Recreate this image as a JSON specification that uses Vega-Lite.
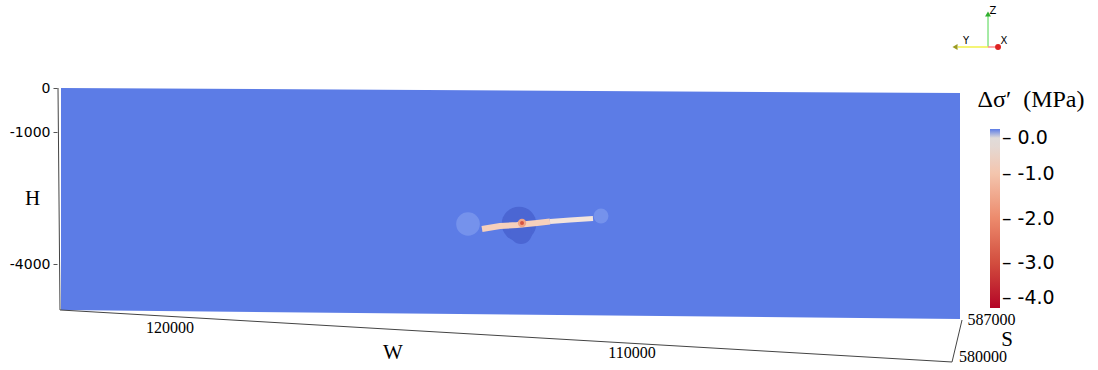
{
  "$schema": "https://vega.github.io/schema/vega-lite/v6.json",
  "autosize": {"type": "none"},
  "padding": {"left": 57, "top": 0, "right": 0, "bottom": 0},
  "width": 1041,
  "height": 370,
  "background": "white",
  "config": {"view": {"stroke": null}},
  "datasets": {
    "block": [
      {"W": 122913, "H": 0, "H2": -5045, "stress": 0},
      {"W": 103370, "H": -114, "H2": -5250, "stress": 0}
    ],
    "blobs": [
      {"name": "left", "W": 114065, "H": -3091},
      {"name": "right", "W": 111174, "H": -2909},
      {"name": "core", "W": 112957, "H": -3090},
      {"name": "coreLow", "W": 112913, "H": -3295}
    ],
    "streak": [
      {"seg": "a", "W": 113761, "H": -3205},
      {"seg": "a", "W": 113370, "H": -3136},
      {"seg": "a", "W": 113000, "H": -3114},
      {"seg": "a", "W": 112565, "H": -3068},
      {"seg": "a", "W": 112283, "H": -3034},
      {"seg": "b", "W": 112283, "H": -3034},
      {"seg": "b", "W": 111848, "H": -3000},
      {"seg": "b", "W": 111348, "H": -2966}
    ],
    "spot": [
      {"name": "glow", "W": 112891, "H": -3068, "stress": -1.6},
      {"name": "core", "W": 112891, "H": -3068, "stress": -2.9}
    ],
    "edges": [
      {"W": 122978, "H": 0, "W2": 122935, "H2": -5045},
      {"W": 122935, "H": -5045, "W2": 103543, "H2": -6227},
      {"W": 103543, "H": -6227, "W2": 103326, "H2": -5273}
    ],
    "labels": [
      {"kind": "num", "W": 120543, "H": -5455, "label": "120000"},
      {"kind": "num", "W": 110500, "H": -6023, "label": "110000"},
      {"kind": "num", "W": 102685, "H": -5273, "label": "587000"},
      {"kind": "num", "W": 102870, "H": -6114, "label": "580000"},
      {"kind": "title", "W": 115696, "H": -6023, "label": "W"},
      {"kind": "title", "W": 102348, "H": -5727, "label": "S"},
      {"kind": "legtitle", "W": 101826, "H": -273, "label": "Δσ′\u00a0\u00a0(MPa)"}
    ],
    "triad": [
      {"part": "Z", "W": 102761, "H": 932, "W2": 102761, "H2": 1659},
      {"part": "Y", "W": 102761, "H": 932, "W2": 103413, "H2": 932},
      {"part": "X", "W": 102761, "H": 932, "W2": 102500, "H2": 932}
    ],
    "triadTips": [
      {"part": "Z", "W": 102761, "H": 1682},
      {"part": "Y", "W": 103478, "H": 932},
      {"part": "X", "W": 102543, "H": 932}
    ],
    "triadLabels": [
      {"part": "Z", "W": 102652, "H": 1750},
      {"part": "Y", "W": 103239, "H": 1068},
      {"part": "X", "W": 102413, "H": 1068}
    ]
  },
  "encoding": {
    "x": {"field": "W", "type": "quantitative", "scale": {"domain": [100370, 123000], "reverse": true, "nice": false, "zero": false}, "axis": null},
    "y": {"field": "H", "type": "quantitative", "scale": {"domain": [-6409, 2000], "nice": false, "zero": false},
      "axis": {"values": [0, -1000, -4000], "domain": false, "grid": false, "tickSize": 4, "tickColor": "#555555",
        "labelExpr": "'' + datum.value", "labelFont": "DejaVu Sans", "labelFontSize": 14, "labelColor": "#000000", "labelPadding": 3,
        "title": "H", "titleAngle": 0, "titleFont": "Liberation Serif", "titleFontSize": 21, "titleFontWeight": "normal", "titleColor": "#000000",
        "titleX": -25, "titleY": 198, "titleAlign": "center", "titleBaseline": "middle"}}
  },
  "layer": [
    {
      "data": {"name": "block"},
      "mark": {"type": "area", "opacity": 1},
      "encoding": {
        "y2": {"field": "H2"},
        "color": {"field": "stress", "type": "quantitative",
          "scale": {"domain": [-4, -3, -2, -1, -0.35, -0.05, 0], "range": ["#b40426", "#d24d3e", "#ec8a6c", "#f4c5ad", "#e3dad6", "#dcdcdc", "#5c7ce6"], "interpolate": "rgb"},
          "legend": {"type": "gradient", "orient": "none", "legendX": 933, "legendY": 129, "title": null, "direction": "vertical", "values": [0, -1, -2, -3, -4],
            "gradientLength": 179, "gradientThickness": 10, "gradientStrokeWidth": 0, "padding": 0,
            "labelFont": "DejaVu Sans", "labelFontSize": 19, "labelColor": "#000000", "labelOffset": 2, "labelBaseline": "middle",
            "labelExpr": "'– ' + replace(format(datum.value, '.1f'), '−', '-')"}}
      }
    },
    {
      "data": {"name": "blobs"},
      "transform": [{"filter": "datum.name == 'left'"}],
      "mark": {"type": "circle", "size": 560, "color": "#7592ec", "opacity": 1}
    },
    {
      "data": {"name": "blobs"},
      "transform": [{"filter": "datum.name == 'right'"}],
      "mark": {"type": "circle", "size": 220, "color": "#7592ec", "opacity": 1}
    },
    {
      "data": {"name": "blobs"},
      "transform": [{"filter": "datum.name == 'core'"}],
      "mark": {"type": "circle", "size": 1200, "color": "#4b66d3", "opacity": 1}
    },
    {
      "data": {"name": "blobs"},
      "transform": [{"filter": "datum.name == 'coreLow'"}],
      "mark": {"type": "circle", "size": 480, "color": "#4b66d3", "opacity": 1}
    },
    {
      "data": {"name": "streak"},
      "transform": [{"filter": "datum.seg == 'a'"}],
      "mark": {"type": "line", "strokeWidth": 6, "strokeCap": "butt", "color": "#f6d0bc"},
      "encoding": {}
    },
    {
      "data": {"name": "streak"},
      "transform": [{"filter": "datum.seg == 'b'"}],
      "mark": {"type": "line", "strokeWidth": 5, "strokeCap": "butt", "color": "#f3e4dc"},
      "encoding": {}
    },
    {
      "data": {"name": "spot"},
      "transform": [{"filter": "datum.name == 'glow'"}],
      "mark": {"type": "circle", "size": 70, "opacity": 1},
      "encoding": {"color": {"field": "stress", "type": "quantitative"}}
    },
    {
      "data": {"name": "spot"},
      "transform": [{"filter": "datum.name == 'core'"}],
      "mark": {"type": "circle", "size": 16, "opacity": 1},
      "encoding": {"color": {"field": "stress", "type": "quantitative"}}
    },
    {
      "data": {"name": "edges"},
      "mark": {"type": "rule", "color": "#444444", "strokeWidth": 1},
      "encoding": {"x2": {"field": "W2"}, "y2": {"field": "H2"}}
    },
    {
      "data": {"name": "labels"},
      "transform": [{"filter": "datum.kind == 'num'"}],
      "mark": {"type": "text", "font": "Liberation Serif", "fontSize": 16, "color": "#000000", "align": "center", "baseline": "middle"},
      "encoding": {"text": {"field": "label"}}
    },
    {
      "data": {"name": "labels"},
      "transform": [{"filter": "datum.kind == 'title'"}],
      "mark": {"type": "text", "font": "Liberation Serif", "fontSize": 21, "color": "#000000", "align": "center", "baseline": "middle"},
      "encoding": {"text": {"field": "label"}}
    },
    {
      "data": {"name": "labels"},
      "transform": [{"filter": "datum.kind == 'legtitle'"}],
      "mark": {"type": "text", "font": "Liberation Serif", "fontSize": 24, "color": "#000000", "align": "center", "baseline": "middle"},
      "encoding": {"text": {"field": "label"}}
    },
    {
      "data": {"name": "triad"},
      "mark": {"type": "rule", "strokeWidth": 1.5},
      "encoding": {
        "x2": {"field": "W2"}, "y2": {"field": "H2"},
        "stroke": {"field": "part", "type": "nominal", "scale": {"domain": ["X", "Y", "Z"], "range": ["#ff8a8a", "#f2f24a", "#88e488"]}, "legend": null}
      }
    },
    {
      "data": {"name": "triadTips"},
      "mark": {"type": "point", "filled": true, "size": 35, "opacity": 1},
      "encoding": {
        "fill": {"field": "part", "type": "nominal", "scale": {"domain": ["X", "Y", "Z"], "range": ["#dd2222", "#9c9c22", "#2faf2f"]}, "legend": null},
        "shape": {"field": "part", "type": "nominal", "scale": {"domain": ["X", "Y", "Z"], "range": ["circle", "triangle-left", "triangle-up"]}, "legend": null}
      }
    },
    {
      "data": {"name": "triadLabels"},
      "mark": {"type": "text", "font": "DejaVu Sans", "fontSize": 10, "color": "#000000", "align": "center", "baseline": "middle"},
      "encoding": {"text": {"field": "part"}}
    }
  ]
}
